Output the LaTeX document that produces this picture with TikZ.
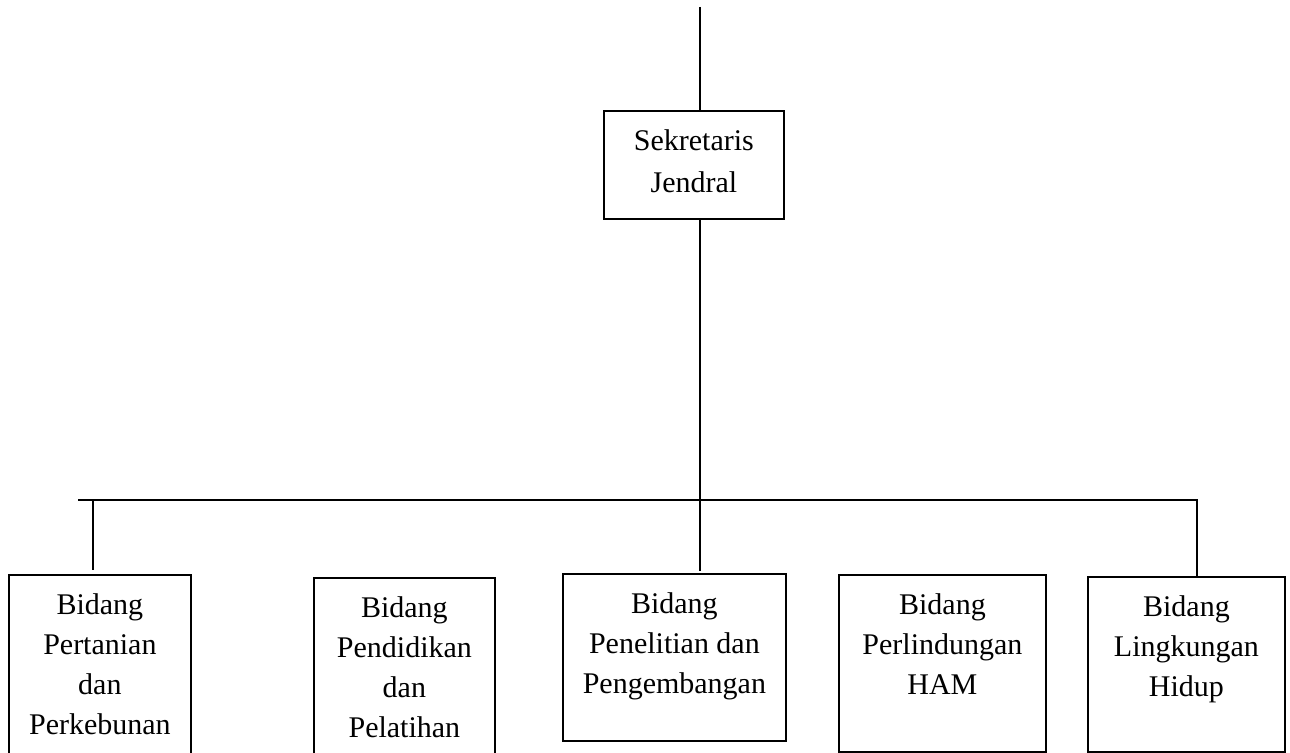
\documentclass[tikz,border=0pt]{standalone}
\usepackage{fontspec}
\setmainfont{Liberation Serif}
\newcommand{\boxtext}[3]{\parbox[c][#2][t]{#1}{\centering\vspace*{9.3pt}#3}}
\begin{document}
\begin{tikzpicture}[x=0.5pt,y=-0.5pt,line width=0.9pt,
  box/.style={draw,inner sep=0pt,anchor=north west,font=\fontsize{15pt}{20pt}\selectfont}]
\useasboundingbox (0,0) rectangle (1290,753);
\clip (0,0) rectangle (1290,753);
\node[box] (S) at (603,110) {\boxtext{90pt}{54pt}{Sekretaris\\[1pt]Jendral}};
\node[box] (B1) at (8,574) {\boxtext{91pt}{113pt}{Bidang\\Pertanian\\dan\\Perkebunan}};
\node[box] (B2) at (313,577) {\boxtext{90.5pt}{111.5pt}{Bidang\\Pendidikan\\dan\\Pelatihan}};
\node[box] (B3) at (562,573) {\boxtext{111.5pt}{83.5pt}{Bidang\\Penelitian dan\\Pengembangan}};
\node[box] (B4) at (838,574) {\boxtext{103.5pt}{88.5pt}{Bidang\\Perlindungan\\HAM}};
\node[box] (B5) at (1087,576) {\boxtext{98.5pt}{87.5pt}{Bidang\\Lingkungan\\Hidup}};
\coordinate (top) at (700,7);
\coordinate (busL) at (78,500);
\coordinate (busR) at (1197,500);
\coordinate (c1) at (93,500);
\draw (top) -- (top |- S.north);
\draw (S.south -| top) -- ([yshift=1pt]top |- B3.north);
\draw (busL) -- (busR) -- (busR |- B5.north);
\draw (c1) -- ([yshift=2pt]c1 |- B1.north);
\end{tikzpicture}
\end{document}
